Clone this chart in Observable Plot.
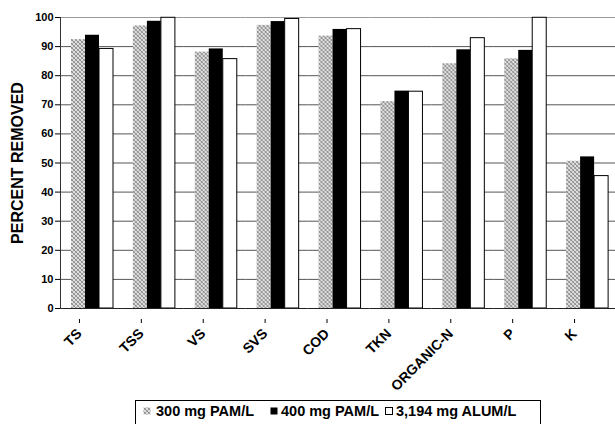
<!DOCTYPE html>
<html><head><meta charset="utf-8">
<script src="https://cdn.jsdelivr.net/npm/d3@7"></script>
<script src="https://cdn.jsdelivr.net/npm/@observablehq/plot@0.6"></script>
<style>
body{margin:0;background:#fff;overflow:hidden;width:615px;height:424px;position:relative;font-family:"Liberation Sans",Arial,sans-serif;}
#legend{position:absolute;left:135px;top:400px;width:406px;height:26px;border:1px solid #000;box-sizing:border-box;font-weight:bold;font-size:14.5px;color:#000;}
#legend .sw{position:absolute;top:6px;width:8px;height:8px;display:block;}
#legend .lb{position:absolute;top:2px;line-height:16px;white-space:nowrap;}
</style></head><body>
<div id="chart"></div>
<div id="legend"></div>
<script>
const categories = ["TS","TSS","VS","SVS","COD","TKN","ORGANIC-N","P","K"];
const seriesNames = ["300 mg PAM/L","400 mg PAM/L","3,194 mg ALUM/L"];
const pam300 = [92.4,97.1,88.1,97.3,93.6,71.1,84.1,85.8,50.6];
const pam400 = [93.9,98.7,89.2,98.6,95.9,74.7,88.9,88.7,52.1];
const alum3194 = [89.2,99.9,85.7,99.5,96.0,74.5,92.9,99.9,45.5];
const yTicks = [0,10,20,30,40,50,60,70,80,90,100];

const seriesValues = [pam300, pam400, alum3194];
const rows = categories.flatMap((c,i) => seriesNames.map((s,j) => ({category:c, series:s, value:seriesValues[j][i]})));
const fills = ["url(#hatch)","#000","#fff"];

const svg = Plot.plot({
  width: 615, height: 398,
  marginTop: 17, marginBottom: 90, marginLeft: 60, marginRight: -2,
  style: {fontFamily: "'Liberation Sans', Arial, sans-serif", background: "white", color: "#000"},
  fx: {domain: categories, padding: 0, round: false, label: null},
  x: {domain: seriesNames, paddingInner: 0, paddingOuter: 0.71, align: 0.553, round: false, axis: null},
  y: {domain: [0,100], label: null},
  marks: [
    Plot.gridY({ticks: yTicks.filter(v => v > 0 && v < 100), stroke: "#555", strokeOpacity: 1}),
    Plot.ruleY([100], {stroke: "#999"}),
    ...seriesNames.map((s,j) => Plot.barY(rows.filter(d => d.series === s), {
      fx: "category", x: "series", y: "value", fill: fills[j],
      stroke: j === 2 ? "#000" : "none", strokeWidth: 1
    })),
    Plot.ruleY([0], {stroke: "#222"}),
    Plot.frame({anchor: "left", facetAnchor: "left", stroke: "#333"}),
    Plot.axisY({ticks: yTicks, tickSize: 5, tickPadding: 2, fontSize: 11, fontWeight: "bold", label: null}),
    Plot.axisY({ticks: [], label: "PERCENT REMOVED", labelAnchor: "center", labelOffset: 49, labelArrow: "none", fontSize: 16, fontWeight: "bold"}),
    Plot.axisFx({anchor: "bottom", tickRotate: -45, tickSize: 4, fontSize: 14, fontWeight: "bold", label: null, dx: -12, dy: 11})
  ]
});

const defs = d3.select(svg).insert("defs", ":first-child");
const pat = defs.append("pattern").attr("id","hatch").attr("patternUnits","userSpaceOnUse").attr("width",4).attr("height",4);
pat.append("rect").attr("width",4).attr("height",4).attr("fill","#dedede");
[[0,0],[1,1],[2,2],[3,3]].forEach(([x,y]) => pat.append("rect").attr("x",x).attr("y",y).attr("width",1).attr("height",1).attr("fill","#8a8a8a"));
[[3,0],[2,1],[1,2],[0,3]].forEach(([x,y]) => pat.append("rect").attr("x",x).attr("y",y).attr("width",1).attr("height",1).attr("fill","#a8a8a8"));
document.getElementById("chart").appendChild(svg);

// legend
const legend = d3.select("#legend");
const swX = [7, 134, 249], lbX = [20, 145, 260];
seriesNames.forEach((s,j) => {
  const sw = legend.append("svg").attr("class","sw").style("left", swX[j]+"px").attr("width",8).attr("height",8);
  sw.append("rect").attr("x",0.5).attr("y",0.5).attr("width",7).attr("height",7)
    .attr("fill", fills[j]).attr("stroke", j === 2 ? "#000" : "none");
  legend.append("span").attr("class","lb").style("left", lbX[j]+"px").text(s);
});
</script></body></html>
